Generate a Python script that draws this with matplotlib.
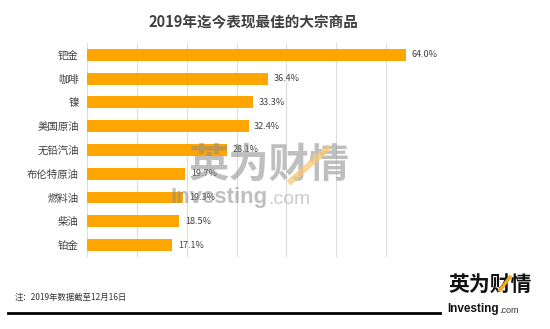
import matplotlib
matplotlib.use("Agg")
import matplotlib.pyplot as plt
from matplotlib.lines import Line2D

plt.rcParams['font.family'] = ['Noto Sans CJK SC', 'DejaVu Sans']

categories = ["钯金", "咖啡", "镍", "美国原油", "无铅汽油", "布伦特原油", "燃料油", "柴油", "铂金"]
values = [64.0, 36.4, 33.3, 32.4, 28.1, 19.7, 19.3, 18.5, 17.1]
xticks = [0, 10, 20, 30, 40, 50, 60, 70]

title = "2019年迄今表现最佳的大宗商品"
note = "注：2019年数据截至12月16日"
brand_cn = "英为财情"

W, H = 550, 329
fig = plt.figure(figsize=(W / 100, H / 100), dpi=100)
fig.patch.set_facecolor("white")


def fx(px):
    return px / W


def fy(py):
    return 1 - py / H


ax = fig.add_axes([fx(87), fy(257), (436 - 87) / W, (257 - 43) / H])
ypos = list(range(len(categories)))
ax.barh(ypos, values, height=0.5, color="#FFA500", zorder=2)
ax.set_ylim(len(categories) - 0.5, -0.5)
ax.set_xlim(0, 70)
ax.set_xticks(xticks)
ax.tick_params(axis="x", length=0, labelbottom=False)
ax.set_yticks(ypos)
ax.set_yticklabels(categories, fontsize=7.5, color="#404040")
ax.tick_params(axis="y", length=0, pad=6)
ax.grid(axis="x", color="#DDDDDD", linewidth=0.8, zorder=0)
for s in ax.spines.values():
    s.set_visible(False)

for y, v in zip(ypos, values):
    ax.annotate(f"{v:.1f}%", (v, y), xytext=(4, 0), textcoords="offset points",
                va="center", ha="left", fontsize=6.5, color="#404040", zorder=3)

fig.text(fx(253), fy(22), title, ha="center", va="center",
         fontsize=10.5, fontweight="bold", color="#404040")

# watermark over the plot
fig.text(fx(269), fy(165), brand_cn, ha="center", va="center",
         fontsize=29, fontweight="black", color="#8C8C8C", alpha=0.55, zorder=10)
fig.add_artist(Line2D([fx(291), fx(327)], [fy(181), fy(149)],
                      color="#F7C873", alpha=0.75, linewidth=4.5, zorder=11))
wm = fig.text(fx(170), fy(198), "Investing", ha="left", va="center",
              fontsize=16, fontweight="bold", color="#8C8C8C", alpha=0.55,
              zorder=10, family="Liberation Sans")
ax.annotate(".com", xy=(1.0, 0.0), xycoords=wm, xytext=(1, 0),
            textcoords="offset points", ha="left", va="bottom",
            fontsize=14, color="#AAAAAA", alpha=0.6, zorder=10,
            family="Liberation Sans", annotation_clip=False)

# footer note, rule and logo
fig.text(fx(15), fy(297), note, ha="left", va="center", fontsize=6, color="#333333")
fig.add_artist(Line2D([fx(8), fx(440)], [fy(313), fy(313)],
                      color="black", linewidth=2))
fig.text(fx(490), fy(284), brand_cn, ha="center", va="center",
         fontsize=15, fontweight="black", color="#111111")
fig.add_artist(Line2D([fx(500), fx(510)], [fy(290), fy(277)],
                      color="#F5A623", linewidth=2.5, zorder=5))
lg = fig.text(fx(447), fy(309), "Investing", ha="left", va="center",
              fontsize=8.5, fontweight="bold", color="#111111", family="Liberation Sans")
ax.annotate(".com", xy=(1.0, 0.0), xycoords=lg, xytext=(0.5, 0),
            textcoords="offset points", ha="left", va="bottom",
            fontsize=6.5, color="#333333", family="Liberation Sans",
            annotation_clip=False)

fig.savefig("out.png", dpi=100, facecolor="white")
